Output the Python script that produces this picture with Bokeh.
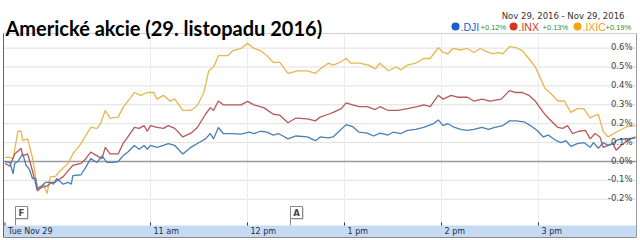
from bokeh.plotting import figure
from bokeh.models import Range1d
from bokeh.core.properties import value
from bokeh.embed import file_html
from bokeh.resources import INLINE

# ---------------- data ----------------
title_text = "Americké akcie (29. listopadu 2016)"
date_range_text = "Nov 29, 2016 - Nov 29, 2016"
series_names = [".DJI", ".INX", ".IXIC"]
series_changes = ["+0.12%", "+0.13%", "+0.19%"]

x_tick_minutes = [0, 90, 150, 210, 270, 330]          # minutes after 9:30
x_tick_labels = ["Tue Nov 29", "11 am", "12 pm", "1 pm", "2 pm", "3 pm"]
y_ticks = [-0.2, -0.1, 0.0, 0.1, 0.2, 0.3, 0.4, 0.5, 0.6]
y_tick_labels = ["-0.2%", "-0.1%", "0.0%", "0.1%", "0.2%", "0.3%", "0.4%", "0.5%", "0.6%"]

flag_minutes = [6.5, 176.6]
flag_letters = ["F", "A"]

ixic_min = [0, 2, 5, 8, 10, 11, 14, 17, 20, 24, 26, 28, 31, 34, 39, 42, 47, 53, 57, 59,
            62, 65, 70, 73, 80, 84, 88, 92, 94, 98, 102, 105, 110, 115, 119, 123, 126, 129, 132, 138,
            141, 146, 150, 154, 158, 162, 166, 170, 175, 181, 187, 192, 195, 200, 203, 206, 211, 214, 219, 225,
            229, 232, 237, 242, 245, 249, 254, 259, 263, 268, 271, 274, 277, 282, 286, 290, 294, 299, 302, 305,
            308, 312, 316, 320, 324, 328, 331, 334, 337, 342, 346, 350, 354, 358, 362, 364, 367, 370, 373, 379,
            385, 390]
ixic_pct = [0.02, 0.023, 0.016, 0.16, 0.16, 0.11, 0.12, 0.02, -0.14, -0.12,
            -0.17, -0.08, -0.08, -0.05, -0.01, 0.04, 0.095, 0.18, 0.175, 0.20,
            0.27, 0.23, 0.235, 0.285, 0.365, 0.35, 0.365, 0.365, 0.33, 0.35,
            0.32, 0.33, 0.27, 0.27, 0.296, 0.365, 0.48, 0.50, 0.56, 0.56,
            0.587, 0.598, 0.625, 0.598, 0.587, 0.56, 0.524, 0.524, 0.466, 0.48,
            0.48, 0.466, 0.49, 0.52, 0.51, 0.52, 0.545, 0.52, 0.52, 0.51,
            0.49, 0.52, 0.48, 0.50, 0.485, 0.51, 0.52, 0.545, 0.545, 0.603,
            0.577, 0.57, 0.598, 0.59, 0.598, 0.577, 0.598, 0.577, 0.57, 0.577,
            0.57, 0.608, 0.603, 0.587, 0.545, 0.50, 0.445, 0.386, 0.365, 0.32,
            0.32, 0.26, 0.28, 0.28, 0.23, 0.24, 0.25, 0.16, 0.13, 0.16,
            0.185, 0.19]

inx_min = [0, 2, 3, 6, 10, 11, 14, 17, 20, 23, 26, 29, 31, 36, 39, 42, 47, 50, 53, 57,
           60, 62, 65, 70, 73, 76, 80, 83, 86, 88, 90, 94, 98, 101, 105, 110, 115, 119, 124, 127,
           129, 132, 135, 141, 146, 150, 154, 160, 166, 170, 175, 180, 187, 192, 195, 200, 203, 208, 211, 215,
           219, 224, 229, 232, 237, 243, 249, 255, 259, 263, 268, 271, 276, 280, 286, 290, 295, 300, 307, 312,
           316, 320, 324, 328, 333, 336, 342, 345, 348, 351, 355, 359, 362, 365, 368, 370, 376, 378, 381, 385,
           390]
inx_pct = [-0.01, -0.02, -0.025, 0.04, 0.07, 0.03, 0.04, -0.05, -0.155, -0.135,
           -0.13, -0.11, -0.11, -0.08, -0.05, -0.02, -0.01, 0.015, 0.05, 0.03,
           0.015, 0.075, 0.04, 0.04, 0.095, 0.13, 0.18, 0.175, 0.19, 0.16,
           0.19, 0.18, 0.175, 0.19, 0.175, 0.13, 0.15, 0.18, 0.25, 0.285,
           0.27, 0.32, 0.30, 0.30, 0.30, 0.318, 0.30, 0.285, 0.25, 0.245,
           0.205, 0.23, 0.226, 0.215, 0.235, 0.25, 0.26, 0.28, 0.31, 0.30,
           0.29, 0.29, 0.275, 0.29, 0.27, 0.27, 0.28, 0.29, 0.30, 0.29,
           0.35, 0.33, 0.35, 0.34, 0.34, 0.32, 0.33, 0.32, 0.33, 0.375,
           0.365, 0.365, 0.35, 0.32, 0.26, 0.23, 0.18, 0.175, 0.19, 0.148,
           0.16, 0.165, 0.12, 0.148, 0.13, 0.075, 0.095, 0.06, 0.085, 0.11,
           0.13]

dji_min = [0, 2, 3, 5, 6, 8, 11, 13, 15, 17, 19, 20, 23, 25, 28, 30, 32, 36, 39, 41,
           42, 47, 50, 53, 57, 60, 63, 67, 70, 73, 76, 80, 83, 86, 88, 90, 94, 98, 101, 105,
           110, 115, 119, 124, 127, 129, 132, 135, 140, 146, 151, 154, 158, 162, 166, 169, 172, 175, 180, 187,
           192, 195, 200, 203, 206, 211, 215, 219, 224, 228, 232, 237, 240, 245, 249, 254, 259, 265, 268, 271,
           274, 278, 282, 286, 290, 295, 299, 303, 308, 312, 316, 321, 325, 329, 333, 336, 341, 344, 347, 350,
           354, 358, 362, 364, 367, 370, 373, 376, 379, 384, 390]
dji_pct = [0.0, -0.005, -0.005, -0.065, -0.01, 0.0, 0.04, -0.02, -0.04, -0.09,
           -0.09, -0.145, -0.13, -0.11, -0.11, -0.12, -0.09, -0.12, -0.11, -0.12,
           -0.075, -0.07, -0.03, 0.015, -0.005, 0.03, -0.005, -0.005, 0.0, 0.03,
           0.05, 0.085, 0.065, 0.085, 0.065, 0.085, 0.075, 0.085, 0.095, 0.085,
           0.04, 0.075, 0.095, 0.12, 0.148, 0.12, 0.18, 0.148, 0.148, 0.145,
           0.155, 0.148, 0.16, 0.155, 0.14, 0.148, 0.135, 0.12, 0.135, 0.13,
           0.11, 0.13, 0.125, 0.13, 0.155, 0.195, 0.185, 0.155, 0.15, 0.135,
           0.15, 0.14, 0.155, 0.148, 0.165, 0.17, 0.18, 0.2, 0.22, 0.19,
           0.2, 0.18, 0.17, 0.165, 0.17, 0.18, 0.17, 0.18, 0.19, 0.215,
           0.215, 0.21, 0.19, 0.165, 0.13, 0.14, 0.11, 0.10, 0.11, 0.08,
           0.095, 0.10, 0.075, 0.10, 0.07, 0.10, 0.085, 0.095, 0.115, 0.12,
           0.125]

# ---------------- layout / style ----------------
W, H = 640, 240
FRAME_L, FRAME_R, FRAME_T, FRAME_B = 3, 636, 33, 237   # chart box on the canvas
BAND_T = 225                                          # top of the time-axis band
PX_PER_MIN = 97.0 / 60.0
PX_PER_PCT = 189.0
OPEN_PX = 4.5
ZERO_PX = 161.0

# the plotting frame covers the whole canvas; scales are set from the chart geometry
x_start = -OPEN_PX / PX_PER_MIN
x_end = x_start + W / PX_PER_MIN
y_end = ZERO_PX / PX_PER_PCT
y_start = y_end - H / PX_PER_PCT


def xd(cx):
    return x_start + cx / PX_PER_MIN


def yd(cy):
    return y_end - cy / PX_PER_PCT


C_DJI_LINE, C_INX_LINE, C_IXIC_LINE = "#4a7fb4", "#b8575c", "#e8b64e"
C_DJI, C_INX, C_IXIC = "#1a5fcf", "#d6391a", "#f5a315"

p = figure(width=W, height=H, output_backend="svg", toolbar_location=None,
           x_axis_type=None, y_axis_type=None,
           x_range=Range1d(x_start, x_end), y_range=Range1d(y_start, y_end),
           min_border_left=0, min_border_right=0, min_border_top=0, min_border_bottom=0)
p.outline_line_color = None
p.background_fill_color = "white"
p.border_fill_color = "white"

band_top = yd(BAND_T)

# grid lines
grid_vals = [t for t in y_ticks if t != 0.0]
p.segment(x0=[xd(FRAME_L)] * len(grid_vals), x1=[xd(FRAME_R)] * len(grid_vals), y0=grid_vals, y1=grid_vals,
          line_color="#e0e0e0", line_width=1)
p.segment(x0=x_tick_minutes[1:], x1=x_tick_minutes[1:], y0=[yd(FRAME_T)] * 5, y1=[band_top] * 5,
          line_color="#ececec", line_width=1)
p.segment(x0=[xd(FRAME_L)], x1=[xd(FRAME_R)], y0=[0.0], y1=[0.0], line_color="#9a9a9a", line_width=1.5)

# series
p.line(ixic_min, ixic_pct, line_color=C_IXIC_LINE, line_width=1.3)
p.line(inx_min, inx_pct, line_color=C_INX_LINE, line_width=1.3)
p.line(dji_min, dji_pct, line_color=C_DJI_LINE, line_width=1.3)

# y tick labels (inside, right)
p.text(x=[xd(FRAME_R)] * len(y_ticks), y=y_ticks, text=y_tick_labels,
       text_align="right", text_baseline="alphabetic", x_offset=-4, y_offset=-1,
       text_font=value("DejaVu Sans"), text_font_size="8.5px", text_color="#444444")

# news flags
fw = 12 / PX_PER_MIN
f_top, f_bot = yd(206), yd(218)
p.segment(x0=flag_minutes, x1=flag_minutes, y0=[band_top] * 2, y1=[f_bot] * 2,
          line_color="#888888", line_width=1)
p.quad(left=[m + 1 / PX_PER_MIN for m in flag_minutes], right=[m + fw + 1 / PX_PER_MIN for m in flag_minutes],
       top=[f_top - 1 / PX_PER_PCT] * 2, bottom=[f_bot - 1 / PX_PER_PCT] * 2,
       fill_color="#bbbbbb", line_color=None)
p.quad(left=flag_minutes, right=[m + fw for m in flag_minutes], top=[f_top] * 2, bottom=[f_bot] * 2,
       fill_color="white", line_color="#888888", line_width=1)
p.text(x=[m + fw / 2 for m in flag_minutes], y=[(f_top + f_bot) / 2] * 2, text=flag_letters,
       text_align="center", text_baseline="middle", text_font=value("DejaVu Sans"),
       text_font_style="bold", text_font_size="8.5px", text_color="#444444")

# time-axis band
p.quad(left=[xd(FRAME_L)], right=[xd(FRAME_R)], bottom=[yd(FRAME_B)], top=[band_top],
       fill_color="#c6dbf3", line_color=None)
p.segment(x0=x_tick_minutes, x1=x_tick_minutes, y0=[band_top] * len(x_tick_minutes),
          y1=[band_top + 3 / PX_PER_PCT] * len(x_tick_minutes), line_color="#333333", line_width=1)
p.text(x=x_tick_minutes, y=[yd(231)] * len(x_tick_minutes), text=x_tick_labels,
       text_align="left", text_baseline="middle", x_offset=3,
       text_font=value("DejaVu Sans"), text_font_size="8px", text_color="#1d2a44")

# chart box
p.segment(x0=[xd(FRAME_L), xd(FRAME_L), xd(FRAME_R), xd(FRAME_L)],
          x1=[xd(FRAME_R), xd(FRAME_L), xd(FRAME_R), xd(FRAME_R)],
          y0=[yd(FRAME_T), yd(FRAME_T), yd(FRAME_T), yd(FRAME_B)],
          y1=[yd(FRAME_T), yd(FRAME_B), yd(FRAME_B), yd(FRAME_B)],
          line_color=["#cfcfcf", "#666666", "#9a9a9a", "#8a8a8a"], line_width=1)

# title and legend header
p.text(x=[xd(5)], y=[yd(27)], text=[title_text], text_align="left", text_baseline="alphabetic",
       text_font=value("Lato"), text_font_style="bold", text_font_size="20px", text_color="black")
p.text(x=[xd(624)], y=[yd(15)], text=[date_range_text], text_align="right", text_baseline="middle",
       text_font=value("DejaVu Sans"), text_font_size="8.5px", text_color="#333333")

dot_x = [455, 513, 577]
name_x = [460, 518, 582]
chg_x = [480, 542, 605]
cols = [C_DJI, C_INX, C_IXIC]
p.scatter(x=[xd(v) for v in dot_x], y=[yd(26)] * 3, size=8, marker="circle",
          fill_color=cols, line_color=None)
p.text(x=[xd(v) for v in name_x], y=[yd(26)] * 3, text=series_names, text_align="left",
       text_baseline="middle", text_font=value("Liberation Sans"), text_font_size="10.5px", text_color=cols)
p.text(x=[xd(v) for v in chg_x], y=[yd(26.5)] * 3, text=series_changes, text_align="left",
       text_baseline="middle", text_font=value("Liberation Sans"), text_font_size="7.5px", text_color="#2e8b2e")

open("out.html", "w").write(file_html(p, INLINE))
